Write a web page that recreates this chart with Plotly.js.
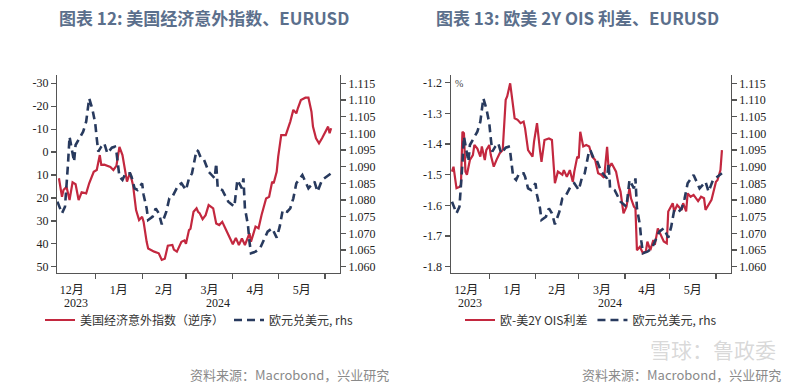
<!DOCTYPE html>
<html><head><meta charset="utf-8">
<script src="https://cdn.plot.ly/plotly-3.0.1.min.js"></script>
<style>html,body{margin:0;padding:0;background:#fff}#chart{width:800px;height:384px}</style>
</head><body><div id="chart"></div>
<script>
// ---- Data ----
const esiDates = ['2023-12-08','2023-12-10','2023-12-11','2023-12-13','2023-12-15','2023-12-17','2023-12-19','2023-12-21','2023-12-23','2023-12-26','2023-12-28','2023-12-31',
 '2024-01-02','2024-01-04','2024-01-05','2024-01-07','2024-01-11','2024-01-13','2024-01-15','2024-01-17','2024-01-19','2024-01-21','2024-01-22','2024-01-24','2024-01-26','2024-01-28','2024-01-30',
 '2024-02-01','2024-02-02','2024-02-04','2024-02-05','2024-02-09','2024-02-12','2024-02-14','2024-02-16','2024-02-18','2024-02-21','2024-02-22','2024-02-24','2024-02-27','2024-02-29',
 '2024-03-01','2024-03-03','2024-03-04','2024-03-06','2024-03-08','2024-03-09','2024-03-10','2024-03-12','2024-03-14','2024-03-16','2024-03-19','2024-03-21','2024-03-23','2024-03-25','2024-03-27','2024-03-29',
 '2024-04-01','2024-04-03','2024-04-05','2024-04-07','2024-04-09','2024-04-12','2024-04-13','2024-04-16','2024-04-18','2024-04-20','2024-04-23','2024-04-25','2024-04-27','2024-04-28','2024-04-30',
 '2024-05-01','2024-05-03','2024-05-06','2024-05-09','2024-05-11','2024-05-13','2024-05-14','2024-05-16','2024-05-19','2024-05-21','2024-05-23','2024-05-24','2024-05-26','2024-05-28','2024-05-30',
 '2024-06-02','2024-06-03','2024-06-04','2024-06-05'];
const esiValues = [11.4,19.5,16.5,15.1,20.9,13.2,14,20.9,17.5,18,13.6,8.6,
 7.8,1.3,5.6,5.5,6.5,7.8,6,-2.3,1.3,10,12.9,9,14.4,25.3,29.6,
 28.2,30.5,39.1,42,43.4,44.1,47,46.5,40.8,40.5,42.5,43.4,39.1,38.5,
 40,34,33.4,26,24.5,26,26.6,29.2,27.5,23.1,24.5,31.1,31.8,30.4,33.2,36.2,
 40.2,37.4,40.5,37.7,40.5,35.4,39.1,32.5,33.2,27.4,20.2,19.5,12.9,13.6,8.6,
 2,-7.4,-7.4,-13.3,-18.4,-16.9,-19.1,-22.7,-23.7,-23.7,-17.6,-11.1,-6,-3.8,-6,
 -10.4,-11.1,-8.2,-10.4];

const fxDates = ['2023-12-07','2023-12-10','2023-12-12','2023-12-13','2023-12-14','2023-12-15','2023-12-18','2023-12-19','2023-12-21','2023-12-24','2023-12-26','2023-12-27','2023-12-28','2023-12-30',
 '2024-01-01','2024-01-02','2024-01-03','2024-01-05','2024-01-07','2024-01-09','2024-01-12','2024-01-14','2024-01-15','2024-01-17','2024-01-19','2024-01-21','2024-01-24','2024-01-25','2024-01-27','2024-01-29',
 '2024-02-01','2024-02-02','2024-02-04','2024-02-05','2024-02-08','2024-02-10','2024-02-12','2024-02-14','2024-02-17','2024-02-19','2024-02-21','2024-02-25','2024-02-27',
 '2024-03-01','2024-03-03','2024-03-05','2024-03-07','2024-03-08','2024-03-09','2024-03-11','2024-03-13','2024-03-16','2024-03-18','2024-03-20','2024-03-21','2024-03-22','2024-03-25','2024-03-29',
 '2024-04-02','2024-04-03','2024-04-04','2024-04-07','2024-04-08','2024-04-09','2024-04-11','2024-04-12','2024-04-13','2024-04-16','2024-04-19','2024-04-22','2024-04-24','2024-04-27','2024-04-30',
 '2024-05-02','2024-05-04','2024-05-07','2024-05-09','2024-05-11','2024-05-13','2024-05-17','2024-05-19','2024-05-21','2024-05-25','2024-05-27','2024-05-30',
 '2024-06-03','2024-06-05'];
const fxValues = [1.0795,1.076,1.078,1.0835,1.091,1.099,1.0915,1.0965,1.098,1.1005,1.1035,1.108,1.1105,1.1075,
 1.103,1.0985,1.0945,1.096,1.097,1.094,1.0957,1.096,1.0945,1.087,1.086,1.088,1.088,1.087,1.0835,1.083,
 1.085,1.0815,1.0775,1.074,1.075,1.0775,1.076,1.0727,1.0765,1.0805,1.081,1.0845,1.085,
 1.083,1.0865,1.088,1.092,1.095,1.0947,1.0925,1.092,1.0885,1.0875,1.0865,1.091,1.0835,1.083,1.0795,
 1.078,1.0825,1.086,1.0835,1.0865,1.0775,1.0725,1.0675,1.064,1.0645,1.0655,1.0685,1.0705,1.0715,1.0687,
 1.072,1.077,1.0765,1.0775,1.0805,1.085,1.0875,1.0855,1.0835,1.0855,1.0825,1.086,
 1.0875,1.088];

const oisDates = ['2023-12-07','2023-12-08','2023-12-10','2023-12-12','2023-12-13','2023-12-14','2023-12-15','2023-12-16','2023-12-17','2023-12-19','2023-12-21','2023-12-22','2023-12-24','2023-12-26','2023-12-27','2023-12-29','2023-12-30',
 '2024-01-01','2024-01-02','2024-01-04','2024-01-06','2024-01-08','2024-01-10','2024-01-11','2024-01-12','2024-01-13','2024-01-15','2024-01-16','2024-01-18','2024-01-20','2024-01-22','2024-01-24','2024-01-25','2024-01-27','2024-01-30','2024-01-31',
 '2024-02-02','2024-02-04','2024-02-05','2024-02-07','2024-02-10','2024-02-12','2024-02-14','2024-02-16','2024-02-19','2024-02-20','2024-02-22','2024-02-24','2024-02-26','2024-02-27','2024-02-29',
 '2024-03-01','2024-03-02','2024-03-04','2024-03-06','2024-03-08','2024-03-10','2024-03-12','2024-03-14','2024-03-16','2024-03-18','2024-03-20','2024-03-21','2024-03-23','2024-03-26','2024-03-28','2024-03-29','2024-03-31',
 '2024-04-02','2024-04-04','2024-04-05','2024-04-07','2024-04-08','2024-04-09','2024-04-11','2024-04-13','2024-04-15','2024-04-16','2024-04-18','2024-04-20','2024-04-21','2024-04-23','2024-04-24','2024-04-27','2024-04-29','2024-04-30',
 '2024-05-03','2024-05-04','2024-05-06','2024-05-09','2024-05-10','2024-05-12','2024-05-13','2024-05-15','2024-05-17','2024-05-20','2024-05-22','2024-05-24','2024-05-25','2024-05-27','2024-05-29',
 '2024-06-01','2024-06-02','2024-06-04','2024-06-05'];
const oisValues = [-1.490,-1.474,-1.544,-1.540,-1.533,-1.360,-1.365,-1.490,-1.500,-1.452,-1.436,-1.403,-1.415,-1.441,-1.408,-1.452,-1.420,
 -1.403,-1.436,-1.474,-1.450,-1.430,-1.420,-1.349,-1.256,-1.245,-1.202,-1.240,-1.316,-1.321,-1.332,-1.327,-1.349,-1.420,-1.441,-1.392,
 -1.332,-1.420,-1.458,-1.387,-1.382,-1.387,-1.528,-1.490,-1.500,-1.485,-1.507,-1.485,-1.523,-1.490,-1.441,
 -1.446,-1.360,-1.408,-1.403,-1.408,-1.441,-1.452,-1.495,-1.500,-1.510,-1.409,-1.479,-1.463,-1.490,-1.539,-1.555,-1.626,
 -1.604,-1.544,-1.577,-1.604,-1.610,-1.746,-1.735,-1.756,-1.750,-1.718,-1.746,-1.713,-1.729,-1.675,-1.686,-1.718,-1.724,-1.620,
 -1.593,-1.620,-1.599,-1.615,-1.593,-1.620,-1.561,-1.572,-1.566,-1.586,-1.572,-1.577,-1.615,-1.599,-1.582,
 -1.523,-1.518,-1.485,-1.420];

const esiTicks = [-30,-20,-10,0,10,20,30,40,50];
const esiTickText = ['-30','-20','-10','0','10','20','30','40','50'];
const fxTicks = [1.060,1.065,1.070,1.075,1.080,1.085,1.090,1.095,1.100,1.105,1.110,1.115];
const fxTickText = ['1.060','1.065','1.070','1.075','1.080','1.085','1.090','1.095','1.100','1.105','1.110','1.115'];
const oisTicks = [-1.8,-1.7,-1.6,-1.5,-1.4,-1.3,-1.2];
const oisTickText = ['-1.8','-1.7','-1.6','-1.5','-1.4','-1.3','-1.2'];
const yearLabels = ['2023','2024'];

const title1 = '图表 12: 美国经济意外指数、EURUSD';
const title2 = '图表 13: 欧美 2Y OIS 利差、EURUSD';
const nameEsi = '美国经济意外指数（逆序）';
const nameOis = '欧-美2Y OIS利差';
const nameFx = '欧元兑美元, rhs';
const sourceText = '资料来源：Macrobond，兴业研究';
const watermarkText = '雪球：鲁政委';

// ---- Styling ----
const RED = '#c3283f';
const NAVY = '#283a5e';
const AX = '#555555';
const SERIF = '"Liberation Serif","Times New Roman","Noto Sans CJK SC",serif';
const CJK = '"Noto Sans CJK SC","Noto Sans",sans-serif';
const W = 800, H = 384;
const yDom = [(H-273)/H, (H-75)/H];
const x1Dom = [57/W, 340/W];
const x2Dom = [450.7/W, 730.7/W];
const x1Range = ['2023-12-06 17:00','2024-06-10 21:00'];
const x2Range = ['2023-12-06 03:00','2024-06-10 21:00'];

function midDate(a, b) {
  const ta = new Date(a.replace(' ','T')+'Z').getTime(), tb = new Date(b.replace(' ','T')+'Z').getTime();
  return new Date((ta+tb)/2).toISOString().slice(0,16).replace('T',' ');
}

const traces = [
  {x: esiDates, y: esiValues, xaxis:'x', yaxis:'y', type:'scatter', mode:'lines', name:nameEsi,
   line:{color:RED, width:2.2}, legend:'legend'},
  {x: fxDates, y: fxValues, xaxis:'x', yaxis:'y2', type:'scatter', mode:'lines', name:nameFx,
   line:{color:NAVY, width:2.6, dash:'8px,5px'}, legend:'legend'},
  {x: oisDates, y: oisValues, xaxis:'x2', yaxis:'y3', type:'scatter', mode:'lines', name:nameOis,
   line:{color:RED, width:2.2}, legend:'legend2'},
  {x: fxDates, y: fxValues, xaxis:'x2', yaxis:'y4', type:'scatter', mode:'lines', name:nameFx,
   line:{color:NAVY, width:2.6, dash:'8px,5px'}, legend:'legend2'}
];

function xAxis(dom, range, anchor) {
  return {domain:dom, range:range, type:'date', anchor:anchor, showgrid:false, zeroline:false,
    showline:true, linecolor:AX, linewidth:1.2, ticks:'outside', ticklen:5, tickcolor:AX, tickwidth:1.2,
    dtick:'M1', tick0:'2023-12-01', ticklabelmode:'period', tickformat:'%-m月',
    tickfont:{family:SERIF, size:12, color:'#222'}, fixedrange:true};
}
function yAxis(dom, range, vals, text, anchor, side, overlay) {
  const a = {domain:dom, range:range, anchor:anchor, side:side, showgrid:false, zeroline:false,
    showline:true, linecolor:AX, linewidth:1.2, ticks:'outside', ticklen:5, tickcolor:AX, tickwidth:1.2,
    tickmode:'array', tickvals:vals, ticktext:text,
    tickfont:{family:SERIF, size:12, color:'#222'}, fixedrange:true};
  if (overlay) a.overlaying = overlay;
  return a;
}

const ann = [];
function addTitle(text, xc) {
  ann.push({text:text, xref:'paper', yref:'paper', x:xc/W, y:1-17/H, xanchor:'center', yanchor:'middle',
    showarrow:false, font:{family:CJK, size:17, color:'#5b6f8c', weight:700}});
}
addTitle(title1, 204);
addTitle(title2, 577);
function addYears(xref, range) {
  const yStart = yearLabels[1] + '-01-01 00:00';
  [[range[0], yStart], [yStart, range[1]]].forEach((span, i) => {
    ann.push({text:yearLabels[i], xref:xref, yref:'paper', x:midDate(span[0], span[1]), y:1-303/H,
      xanchor:'center', yanchor:'middle', showarrow:false, font:{family:SERIF, size:12, color:'#222'}});
  });
}
addYears('x', x1Range);
addYears('x2', x2Range);
ann.push({text:'%', xref:'paper', yref:'paper', x:459/W, y:1-83/H, xanchor:'center', yanchor:'middle',
  showarrow:false, font:{family:SERIF, size:10, color:'#444'}});
ann.push({text:sourceText, xref:'paper', yref:'paper', x:391/W, y:1-374/H, xanchor:'right', yanchor:'middle',
  showarrow:false, font:{family:CJK, size:13, color:'#8a8a8a'}});
ann.push({text:watermarkText, xref:'paper', yref:'paper', x:778/W, y:1-349/H, xanchor:'right', yanchor:'middle',
  showarrow:false, font:{family:CJK, size:21, color:'rgba(170,170,170,0.45)'}});
ann.push({text:sourceText, xref:'paper', yref:'paper', x:783/W, y:1-374/H, xanchor:'right', yanchor:'middle',
  showarrow:false, font:{family:CJK, size:13, color:'#8a8a8a'}});

const legendBase = {orientation:'h', xanchor:'left', yanchor:'middle', y:1-320/H,
  font:{family:CJK, size:12, color:'#333'}, bgcolor:'rgba(0,0,0,0)', itemwidth:30, traceorder:'normal',
  itemclick:false, itemdoubleclick:false};

const layout = {
  width:W, height:H, margin:{l:0,r:0,t:0,b:0}, paper_bgcolor:'#fff', plot_bgcolor:'#fff', showlegend:true,
  xaxis: xAxis(x1Dom, x1Range, 'y'),
  yaxis: yAxis(yDom, [52.7,-33.6], esiTicks, esiTickText, 'x', 'left'),
  yaxis2: yAxis(yDom, [1.0581,1.1175], fxTicks, fxTickText, 'x', 'right', 'y'),
  xaxis2: xAxis(x2Dom, x2Range, 'y3'),
  yaxis3: yAxis(yDom, [-1.8205,-1.175], oisTicks, oisTickText, 'x2', 'left'),
  yaxis4: yAxis(yDom, [1.0581,1.1175], fxTicks, fxTickText, 'x2', 'right', 'y3'),
  legend: Object.assign({}, legendBase, {x:40/W}),
  legend2: Object.assign({}, legendBase, {x:460/W}),
  annotations: ann
};

Plotly.newPlot('chart', traces, layout, {displayModeBar:false, staticPlot:true});
</script>
</body></html>
